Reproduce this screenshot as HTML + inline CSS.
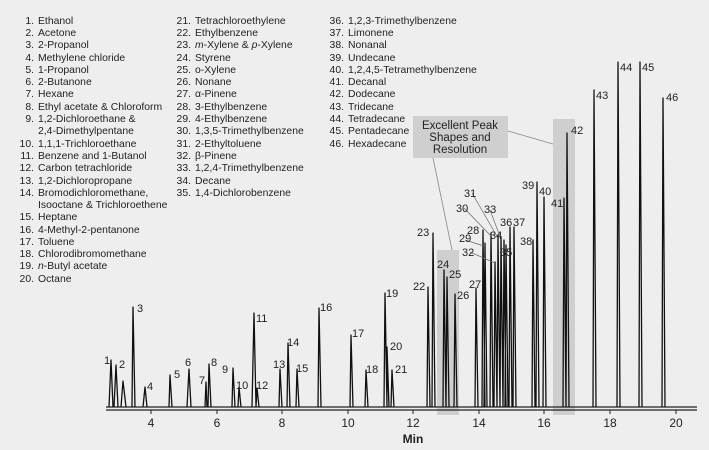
<!DOCTYPE html>
<html><head><meta charset="utf-8"><style>
html,body{margin:0;padding:0;background:#eeeeee;}
svg{display:block;font-family:"Liberation Sans",sans-serif;}
</style></head><body>
<svg width="709" height="450" viewBox="0 0 709 450" xmlns="http://www.w3.org/2000/svg">
<rect width="709" height="450" fill="#eeeeee"/>
<g font-size="10.4" fill="#222">
<g text-anchor="end">
<text x="34" y="24">1.</text><text x="34" y="36">2.</text><text x="34" y="48">3.</text><text x="34" y="61">4.</text><text x="34" y="73">5.</text><text x="34" y="85">6.</text><text x="34" y="97">7.</text><text x="34" y="110">8.</text><text x="34" y="122">9.</text><text x="34" y="147">10.</text><text x="34" y="159">11.</text><text x="34" y="171">12.</text><text x="34" y="184">13.</text><text x="34" y="196">14.</text><text x="34" y="220">15.</text><text x="34" y="233">16.</text><text x="34" y="245">17.</text><text x="34" y="257">18.</text><text x="34" y="269">19.</text><text x="34" y="282">20.</text>
<text x="191" y="24">21.</text><text x="191" y="36">22.</text><text x="191" y="48">23.</text><text x="191" y="61">24.</text><text x="191" y="73">25.</text><text x="191" y="85">26.</text><text x="191" y="97">27.</text><text x="191" y="110">28.</text><text x="191" y="122">29.</text><text x="191" y="134">30.</text><text x="191" y="147">31.</text><text x="191" y="159">32.</text><text x="191" y="171">33.</text><text x="191" y="184">34.</text><text x="191" y="196">35.</text>
<text x="344" y="24">36.</text><text x="344" y="36">37.</text><text x="344" y="48">38.</text><text x="344" y="61">39.</text><text x="344" y="73">40.</text><text x="344" y="85">41.</text><text x="344" y="97">42.</text><text x="344" y="110">43.</text><text x="344" y="122">44.</text><text x="344" y="134">45.</text><text x="344" y="147">46.</text>
</g>
<text x="38" y="24">Ethanol</text><text x="38" y="36">Acetone</text><text x="38" y="48">2-Propanol</text><text x="38" y="61">Methylene chloride</text><text x="38" y="73">1-Propanol</text><text x="38" y="85">2-Butanone</text><text x="38" y="97">Hexane</text><text x="38" y="110">Ethyl acetate &amp; Chloroform</text><text x="38" y="122">1,2-Dichloroethane &amp;</text><text x="38" y="134">2,4-Dimethylpentane</text><text x="38" y="147">1,1,1-Trichloroethane</text><text x="38" y="159">Benzene and 1-Butanol</text><text x="38" y="171">Carbon tetrachloride</text><text x="38" y="184">1,2-Dichloropropane</text><text x="38" y="196">Bromodichloromethane,</text><text x="38" y="208">Isooctane &amp; Trichloroethene</text><text x="38" y="220">Heptane</text><text x="38" y="233">4-Methyl-2-pentanone</text><text x="38" y="245">Toluene</text><text x="38" y="257">Chlorodibromomethane</text><text x="38" y="269"><tspan font-style="italic">n</tspan>-Butyl acetate</text><text x="38" y="282">Octane</text>
<text x="195" y="24">Tetrachloroethylene</text><text x="195" y="36">Ethylbenzene</text><text x="195" y="48"><tspan font-style="italic">m</tspan>-Xylene &amp; <tspan font-style="italic">p</tspan>-Xylene</text><text x="195" y="61">Styrene</text><text x="195" y="73">o-Xylene</text><text x="195" y="85">Nonane</text><text x="195" y="97">α-Pinene</text><text x="195" y="110">3-Ethylbenzene</text><text x="195" y="122">4-Ethylbenzene</text><text x="195" y="134">1,3,5-Trimethylbenzene</text><text x="195" y="147">2-Ethyltoluene</text><text x="195" y="159">β-Pinene</text><text x="195" y="171">1,2,4-Trimethylbenzene</text><text x="195" y="184">Decane</text><text x="195" y="196">1,4-Dichlorobenzene</text>
<text x="348" y="24">1,2,3-Trimethylbenzene</text><text x="348" y="36">Limonene</text><text x="348" y="48">Nonanal</text><text x="348" y="61">Undecane</text><text x="348" y="73">1,2,4,5-Tetramethylbenzene</text><text x="348" y="85">Decanal</text><text x="348" y="97">Dodecane</text><text x="348" y="110">Tridecane</text><text x="348" y="122">Tetradecane</text><text x="348" y="134">Pentadecane</text><text x="348" y="147">Hexadecane</text>
</g>
<rect x="437" y="250" width="22" height="165" fill="#cfcfcf"/>
<rect x="553" y="119" width="22" height="296" fill="#cfcfcf"/>
<rect x="413" y="116" width="95" height="42" fill="#cfcfcf"/>
<line x1="433" y1="158" x2="452" y2="250" stroke="#888" stroke-width="0.8"/>
<line x1="508" y1="131" x2="553" y2="144" stroke="#888" stroke-width="0.8"/>
<g font-size="11.5" fill="#222" text-anchor="middle">
<text x="460" y="129">Excellent Peak</text><text x="460" y="141">Shapes and</text><text x="460" y="153">Resolution</text>
</g>
<line x1="106" y1="410" x2="697" y2="410" stroke="#222" stroke-width="1.2"/>
<g stroke="#222" stroke-width="1">
<line x1="151" y1="410" x2="151" y2="414"/><line x1="217" y1="410" x2="217" y2="414"/><line x1="282" y1="410" x2="282" y2="414"/><line x1="348" y1="410" x2="348" y2="414"/><line x1="413" y1="410" x2="413" y2="414"/><line x1="479" y1="410" x2="479" y2="414"/><line x1="544" y1="410" x2="544" y2="414"/><line x1="610" y1="410" x2="610" y2="414"/><line x1="676" y1="410" x2="676" y2="414"/>
</g>
<g font-size="12" fill="#222" text-anchor="middle">
<text x="151" y="427">4</text><text x="217" y="427">6</text><text x="282" y="427">8</text><text x="348" y="427">10</text><text x="413" y="427">12</text><text x="479" y="427">14</text><text x="544" y="427">16</text><text x="610" y="427">18</text><text x="676" y="427">20</text>
<text x="413" y="443" font-weight="bold">Min</text>
</g>
<path d="M106 407 L697 407" stroke="#222" stroke-width="1.2" fill="none"/>
<g stroke="#111" stroke-width="1.3" fill="none" stroke-linejoin="round">
<path d="M109 407L111 360L113 407M114 407L116 365L118 407M121 407L123 381L126 407M132 407L133 307L135 407M143 407L145 387L147 407M169 407L170 375L172 407M187 407L189 369L191 407M205 407L206 382L207 407M208 407L209 364L211 407M232 407L233 368L235 407M238 407L239 387L241 407M252 407L254 313L256 407M256 407L257 388L259 407M279 407L280 369L282 407M287 407L288 343L290 407M296 407L297 369L299 407M318 407L319 308L321 407M350 407L351 335L353 407M365 407L366 370L368 407M384 407L385 293L387 407M387 407L387 347L389 407M391 407L392 370L394 407M427 407L428 287L430 407M432 407L433 233L435 407M443 407L444 270L446 407M446 407L447 277L449 407M454 407L455 294L457 407M475 407L476 288L478 407M482 407L483 230L485 407M484 407L485 243L487 407M490 407L491 233L493 407M494 407L495 262L497 407M497 407L498 235L500 407M500 407L501 237L503 407M503 407L504 240L506 407M505 407L506 245L508 407M509 407L510 227L512 407M513 407L514 227L516 407M532 407L533 240L535 407M536 407L537 182L539 407M543 407L544 197L546 407M563 407L564 198L566 407M566 407L567 133L569 407M593 407L594 90L596 407M617 407L618 62L620 407M639 407L640 62L642 407M662 407L663 98L665 407"/>
</g>
<g stroke="#666" stroke-width="0.7">
<line x1="465" y1="240" x2="484" y2="246"/><line x1="470" y1="252" x2="495" y2="263"/><line x1="464" y1="208" x2="491" y2="236"/><line x1="472" y1="193" x2="498" y2="238"/><line x1="490" y1="210" x2="501" y2="239"/>
</g>
<g font-size="11" fill="#222">
<text x="104" y="364">1</text><text x="119" y="368">2</text><text x="137" y="312">3</text><text x="147" y="390">4</text><text x="174" y="378">5</text><text x="185" y="366">6</text><text x="199" y="384">7</text><text x="211" y="366">8</text><text x="222" y="373">9</text><text x="236" y="389">10</text><text x="256" y="322">11</text><text x="256" y="389">12</text><text x="273" y="368">13</text><text x="287" y="346">14</text><text x="296" y="372">15</text><text x="320" y="311">16</text><text x="352" y="337">17</text><text x="366" y="373">18</text><text x="386" y="297">19</text><text x="390" y="350">20</text><text x="395" y="373">21</text><text x="413" y="290">22</text><text x="417" y="236">23</text><text x="437" y="268">24</text><text x="449" y="278">25</text><text x="457" y="299">26</text><text x="469" y="288">27</text><text x="467" y="234">28</text><text x="459" y="242">29</text><text x="456" y="212">30</text><text x="464" y="197">31</text><text x="462" y="256">32</text><text x="484" y="213">33</text><text x="490" y="239">34</text><text x="500" y="256">35</text><text x="500" y="226">36</text><text x="513" y="226">37</text><text x="520" y="245">38</text><text x="522" y="189">39</text><text x="539" y="195">40</text><text x="551" y="207">41</text><text x="571" y="134">42</text><text x="596" y="99">43</text><text x="620" y="71">44</text><text x="642" y="71">45</text><text x="666" y="101">46</text>
</g>
</svg>
</body></html>
